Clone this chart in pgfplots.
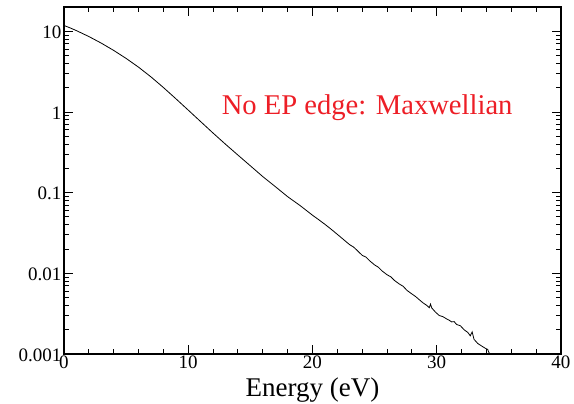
\documentclass[border=0pt]{standalone}
\usepackage{fontspec}
\setmainfont{Liberation Serif}
\usepackage{pgfplots}
\pgfplotsset{compat=1.18}
\definecolor{labelred}{RGB}{237,30,38}

\begin{document}
\begin{tikzpicture}
\begin{semilogyaxis}[
  scale only axis,
  width=497pt, height=347pt,
  xmin=0, xmax=40,
  ymin=0.001, ymax=20,
  xtick={0,10,20,30,40},
  minor x tick num=4,
  ytick={0.001,0.01,0.1,1,10},
  yticklabels={0.001,0.01,0.1,1,10},
  tick align=inside,
  major tick length=9pt,
  minor tick length=5pt,
  every tick/.style={black, line width=0.9pt},
  axis line style={line width=1.4pt},
  xtick pos=both, ytick pos=both,
  xticklabel pos=lower, yticklabel pos=left,
  /pgf/number format/assume math mode=true,
  tick label style={font=\fontsize{19}{21}\selectfont},
  xticklabel style={yshift=2pt},
  yticklabel style={xshift=1pt, yshift=-1pt},
  xlabel={Energy (eV)},
  xlabel style={font=\fontsize{27}{29}\selectfont, yshift=-3pt},
  clip=true,
]
\addplot[black, line width=0.8pt] coordinates {
  (0.0,11.8) (0.5,11.0) (1.0,10.19) (2.0,8.61) (3.0,7.13) (4.0,5.79)
  (5.0,4.61) (6.0,3.59) (7.0,2.72) (8.0,2.01) (9.0,1.46) (10.0,1.054)
  (11.0,0.759) (12.0,0.547) (13.0,0.398) (14.0,0.292) (15.0,0.215)
  (16.0,0.158) (17.0,0.119) (18.0,0.0891) (19.0,0.0692) (20.0,0.0525)
  (20.5,0.0462) (21.0,0.0405) (21.5,0.0352)
  (22.0,0.0304) (22.5,0.0262) (23.0,0.0226) (23.3,0.0212) (23.6,0.0192)
  (24.0,0.0167) (24.3,0.0159) (24.6,0.0143) (25.0,0.0127) (25.3,0.0119)
  (25.6,0.0107) (26.0,0.00960) (26.3,0.00905) (26.6,0.00815) (27.0,0.00735)
  (27.3,0.00690) (27.6,0.00615) (28.0,0.00555) (28.3,0.00515) (28.6,0.00470)
  (28.9,0.00430) (29.2,0.00400) (29.4,0.00375) (29.5,0.00415) (29.6,0.00372)
  (29.9,0.00330) (30.2,0.00300) (30.5,0.00290) (30.8,0.00272) (31.0,0.00262)
  (31.2,0.00250) (31.4,0.00252) (31.6,0.00232) (31.9,0.00224) (32.2,0.00200)
  (32.5,0.00185) (32.7,0.00168) (32.85,0.00188) (33.0,0.00152) (33.3,0.00135)
  (33.6,0.00126) (33.9,0.00118) (34.1,0.00114) (34.2,0.00104) (34.3,0.00100)
};
\node[text=labelred, font=\fontsize{28.6}{31}\selectfont] at (axis cs:24.4,1.12) {No EP edge: Maxwellian};
\end{semilogyaxis}
\pgfresetboundingbox
\useasboundingbox (current axis.south west) ++(-64pt,-50pt) rectangle ++(574pt,404pt);
\end{tikzpicture}
\end{document}
